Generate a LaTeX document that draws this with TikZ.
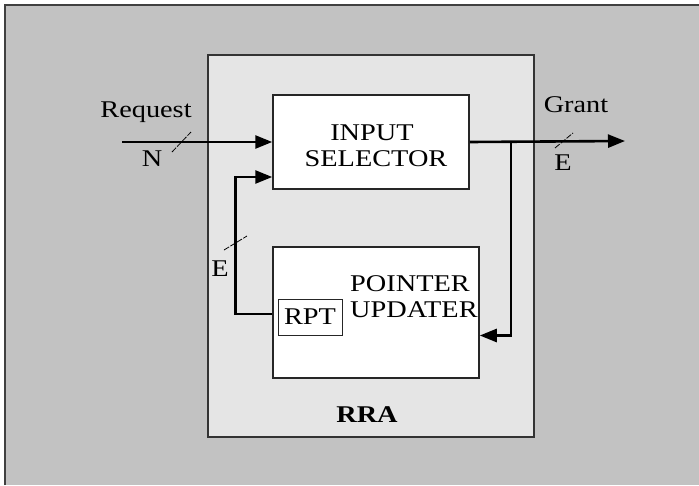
\documentclass[tikz,border=0pt]{standalone}
\usepackage{fontspec}
\setmainfont{Liberation Serif}[FakeStretch=1.18]
\usetikzlibrary{arrows.meta,calc}
\tikzset{
  blk/.style={draw=black!85,line width=1.5pt,fill=white,inner sep=0pt},
  sig/.style={line width=2.6pt,-{Triangle[length=17pt,width=13pt]}},
  bus/.style={line width=0.8pt,dash pattern=on 6pt off 1.5pt},
  lbl/.style={font=\fontsize{24}{26}\selectfont,inner sep=0pt}
}
\begin{document}
\begin{tikzpicture}[x=1pt,y=-1pt]
\clip (0,0) rectangle (699,485);
% background panel
\fill[black!24] (5,5) rectangle (699,485);
\draw[black!75,line width=2pt] (5,485) -- (5,5) -- (699,5);
% RRA block
\node[draw=black!80,fill=black!10,line width=1.5pt,minimum width=326pt,minimum height=382pt,inner sep=0pt] (rra) at (371,246) {};
\node[lbl,font=\fontsize{24}{26}\selectfont\bfseries] (rratxt) at (367,415) {RRA};
% input selector
\node[blk,minimum width=196pt,minimum height=94pt] (sel) at (371,142) {};
\node[lbl,align=center] (seltxt) at (372,146) {INPUT\\\hspace{8pt}SELECTOR};
% pointer updater
\node[blk,minimum width=206pt,minimum height=131pt] (upd) at (376,312.5) {};
\node[lbl,align=left,anchor=west] (updtxt) at (350,297) {POINTER\\UPDATER};
\node[draw=black!85,line width=1pt,minimum width=64pt,minimum height=36pt,lbl] (rpt) at (310,317) {RPT};
% request
\coordinate (req) at (122,142);
\node[lbl] (reqtxt) at (146,112) {Request};
\node[lbl] (n) at (152,159) {N};
\draw[sig] (req) -- (sel.west);
\draw[bus] (172,152) -- (191,132);
% grant
\coordinate (grant) at (625,141);
\coordinate (tap) at (511,142);
\node[lbl] (granttxt) at (576,105) {Grant};
\node[lbl] (e1) at (563,163) {E};
\draw[sig] (sel.east) -- (grant);
\draw[bus] (555,148) -- (573,133);
\draw[sig] (tap) |- ($(upd.east)+(0,23)$);
% pointer feedback
\node[lbl] (e2) at (220,269) {E};
\draw[sig] ($(upd.west)+(0,1.5)$) -- ++(-37,0) |- ($(sel.west)+(0,35)$);
\draw[bus] (224,250) -- (247,236);
\end{tikzpicture}
\end{document}
